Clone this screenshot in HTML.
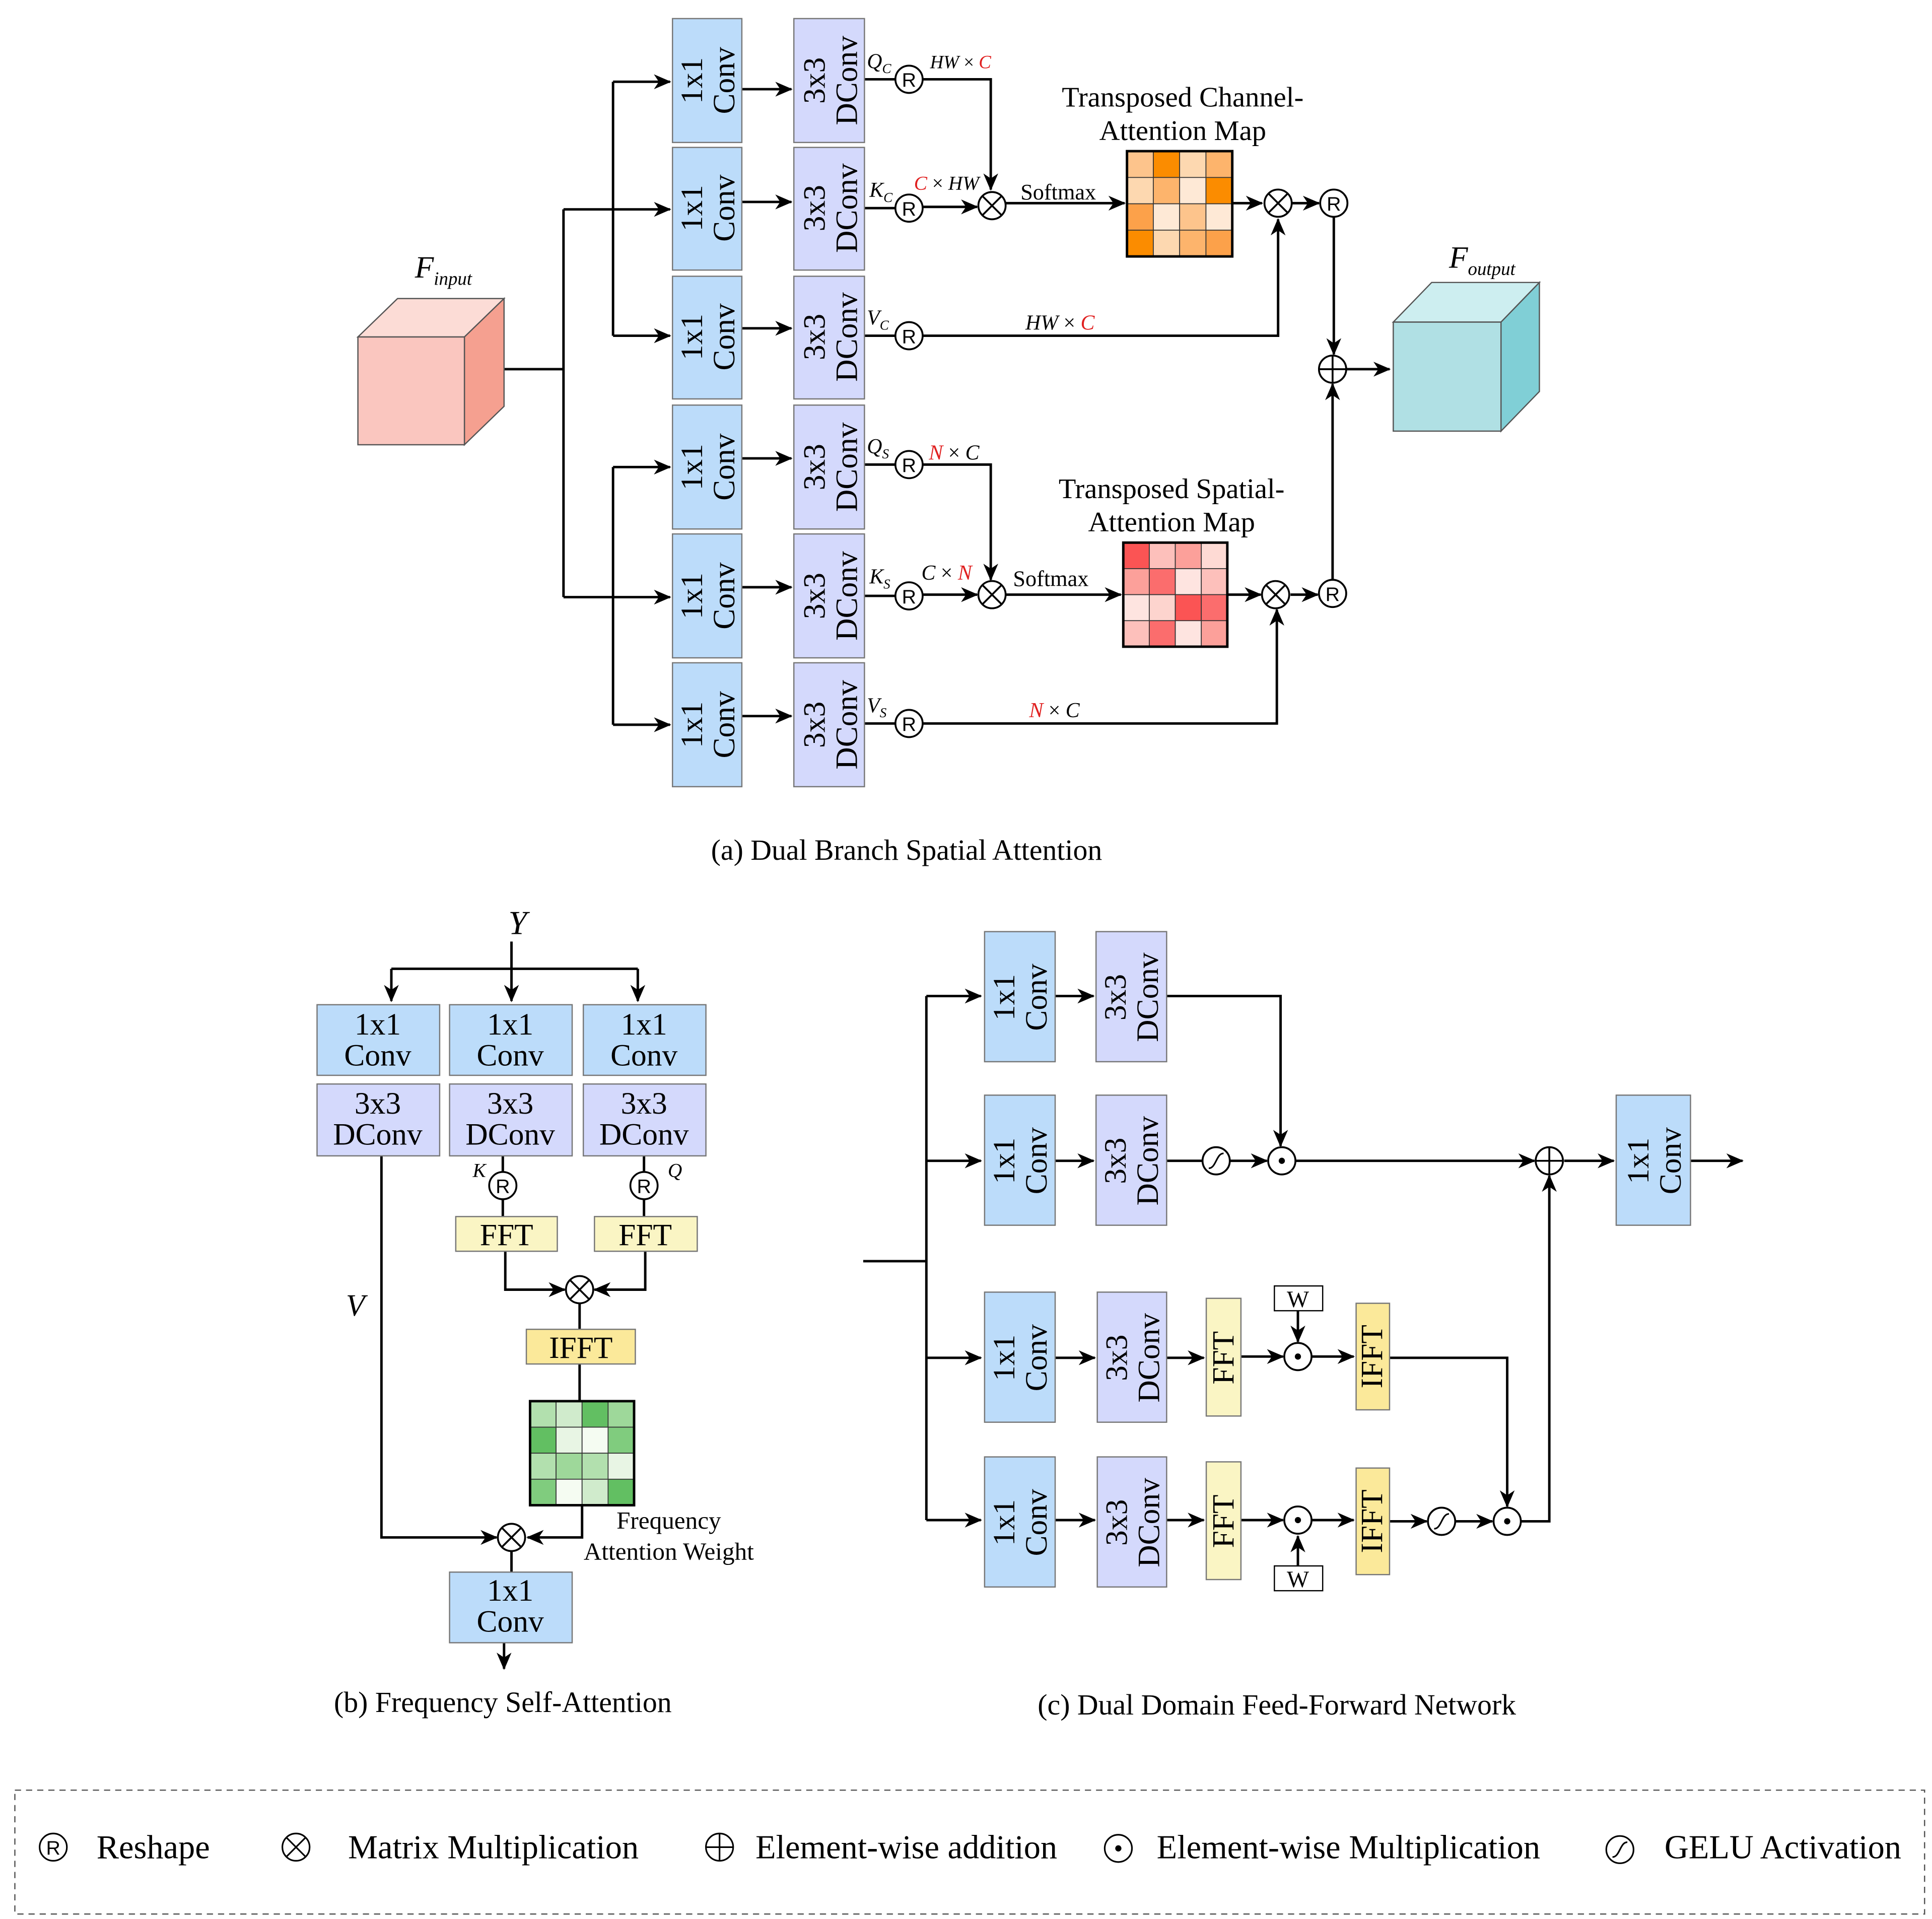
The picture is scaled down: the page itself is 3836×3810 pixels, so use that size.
<!DOCTYPE html>
<html><head><meta charset="utf-8"><style>html,body{margin:0;padding:0;background:#fff}svg{display:block}</style></head><body>
<svg width="3836" height="3810" viewBox="0 0 1560 1549" preserveAspectRatio="none" xmlns="http://www.w3.org/2000/svg" font-family="Liberation Serif, serif">
<defs>
<marker id="a" markerUnits="userSpaceOnUse" markerWidth="14" markerHeight="12" refX="13" refY="6" orient="auto"><path d="M0,0 L14,6 L0,12 L4,6 z" fill="#000"/></marker>
</defs>
<g stroke="#000" stroke-width="2" fill="none">
<path d="M407,298 H455 M455,169 V482"/>
<path d="M455,169 H541" marker-end="url(#a)"/>
<path d="M455,482 H541" marker-end="url(#a)"/>
<path d="M495,66 V271 M495,377 V585"/>
<path d="M495,66 H541" marker-end="url(#a)"/>
<path d="M495,271 H541" marker-end="url(#a)"/>
<path d="M495,377 H541" marker-end="url(#a)"/>
<path d="M495,585 H541" marker-end="url(#a)"/>
<path d="M599,72 H639" marker-end="url(#a)"/>
<path d="M599,163 H639" marker-end="url(#a)"/>
<path d="M599,265 H639" marker-end="url(#a)"/>
<path d="M599,370 H639" marker-end="url(#a)"/>
<path d="M599,474 H639" marker-end="url(#a)"/>
<path d="M599,578 H639" marker-end="url(#a)"/>
<path d="M698,64 H723 M698,168 H723 M698,271 H723 M698,375 H723 M698,481 H723 M698,584 H723"/>
<path d="M745,64 H800 V153" marker-end="url(#a)"/>
<path d="M745,167 H789" marker-end="url(#a)"/>
<path d="M812,164 H908" marker-end="url(#a)"/>
<path d="M995,164 H1019" marker-end="url(#a)"/>
<path d="M1043,164 H1065" marker-end="url(#a)"/>
<path d="M745,271 H1032 V177" marker-end="url(#a)"/>
<path d="M1077,175 V286" marker-end="url(#a)"/>
<path d="M1087,298 H1122" marker-end="url(#a)"/>
<path d="M745,375 H800 V468" marker-end="url(#a)"/>
<path d="M745,480 H789" marker-end="url(#a)"/>
<path d="M812,480 H905" marker-end="url(#a)"/>
<path d="M991,480 H1018" marker-end="url(#a)"/>
<path d="M1042,480 H1064" marker-end="url(#a)"/>
<path d="M745,584 H1031 V492" marker-end="url(#a)"/>
<path d="M1076,468 V310" marker-end="url(#a)"/>
<path d="M413,760 V808" marker-end="url(#a)"/>
<path d="M316,782 H515"/>
<path d="M316,782 V808" marker-end="url(#a)"/>
<path d="M515,782 V808" marker-end="url(#a)"/>
<path d="M406,933 V946 M406,968 V982 M520,933 V946 M520,968 V982"/>
<path d="M408,1010 V1041 H456" marker-end="url(#a)"/>
<path d="M521,1010 V1041 H480" marker-end="url(#a)"/>
<path d="M468,1052 V1073 M468,1101 V1131"/>
<path d="M470,1215 V1241 H426" marker-end="url(#a)"/>
<path d="M308,933 V1241 H401" marker-end="url(#a)"/>
<path d="M413,1252 V1269"/>
<path d="M407,1326 V1347" marker-end="url(#a)"/>
<path d="M697,1018 H748 M748,804 V1227"/>
<path d="M748,804 H792" marker-end="url(#a)"/>
<path d="M748,937 H792" marker-end="url(#a)"/>
<path d="M748,1096 H792" marker-end="url(#a)"/>
<path d="M748,1227 H792" marker-end="url(#a)"/>
<path d="M852,804 H883" marker-end="url(#a)"/>
<path d="M852,937 H883" marker-end="url(#a)"/>
<path d="M852,1096 H884" marker-end="url(#a)"/>
<path d="M852,1227 H884" marker-end="url(#a)"/>
<path d="M942,804 H1034 V925" marker-end="url(#a)"/>
<path d="M942,937 H971"/>
<path d="M993,937 H1023" marker-end="url(#a)"/>
<path d="M1046,937 H1239" marker-end="url(#a)"/>
<path d="M1263,937 H1303" marker-end="url(#a)"/>
<path d="M1365,937 H1407" marker-end="url(#a)"/>
<path d="M942,1096 H972" marker-end="url(#a)"/>
<path d="M1002,1095 H1036" marker-end="url(#a)"/>
<path d="M1048,1058 V1083" marker-end="url(#a)"/>
<path d="M1059,1095 H1093" marker-end="url(#a)"/>
<path d="M1122,1096 H1217 V1216" marker-end="url(#a)"/>
<path d="M942,1227 H972" marker-end="url(#a)"/>
<path d="M1002,1227 H1036" marker-end="url(#a)"/>
<path d="M1048,1264 V1240" marker-end="url(#a)"/>
<path d="M1059,1227 H1093" marker-end="url(#a)"/>
<path d="M1122,1228 H1152" marker-end="url(#a)"/>
<path d="M1175,1228 H1205" marker-end="url(#a)"/>
<path d="M1228,1228 H1251 V949" marker-end="url(#a)"/>
</g>

<g stroke="#555" stroke-width="1">
<polygon points="289,272 321,241 407,241 375,272" fill="#fcdcd6"/>
<polygon points="375,272 407,241 407,328 375,359" fill="#f5a090"/>
<rect x="289" y="272" width="86" height="87" fill="#fac6bf"/>
<polygon points="1125,260 1156,228 1243,228 1212,260" fill="#cdeef0"/>
<polygon points="1212,260 1243,228 1243,316 1212,348" fill="#80cfd6"/>
<rect x="1125" y="260" width="87" height="88" fill="#b0e0e4"/>
</g>
<text x="335" y="224" font-size="25" font-style="italic">F<tspan font-size="15" dy="6">input</tspan></text>
<text x="1170" y="216" font-size="25" font-style="italic">F<tspan font-size="15" dy="6">output</tspan></text>

<g stroke="#777" stroke-width="1">
<rect x="543" y="15" width="56" height="100" fill="#bcdcfa"/>
<rect x="543" y="119" width="56" height="99" fill="#bcdcfa"/>
<rect x="543" y="223" width="56" height="99" fill="#bcdcfa"/>
<rect x="543" y="327" width="56" height="100" fill="#bcdcfa"/>
<rect x="543" y="431" width="56" height="100" fill="#bcdcfa"/>
<rect x="543" y="535" width="56" height="100" fill="#bcdcfa"/>
<rect x="641" y="15" width="57" height="100" fill="#d4d9fc"/>
<rect x="641" y="119" width="57" height="99" fill="#d4d9fc"/>
<rect x="641" y="223" width="57" height="99" fill="#d4d9fc"/>
<rect x="641" y="327" width="57" height="100" fill="#d4d9fc"/>
<rect x="641" y="431" width="57" height="100" fill="#d4d9fc"/>
<rect x="641" y="535" width="57" height="100" fill="#d4d9fc"/>
</g>
<g font-size="25" text-anchor="middle">
<g transform="translate(571,65) rotate(-90)"><text y="-4">1x1</text><text y="22">Conv</text></g>
<g transform="translate(571,168) rotate(-90)"><text y="-4">1x1</text><text y="22">Conv</text></g>
<g transform="translate(571,272) rotate(-90)"><text y="-4">1x1</text><text y="22">Conv</text></g>
<g transform="translate(571,377) rotate(-90)"><text y="-4">1x1</text><text y="22">Conv</text></g>
<g transform="translate(571,481) rotate(-90)"><text y="-4">1x1</text><text y="22">Conv</text></g>
<g transform="translate(571,585) rotate(-90)"><text y="-4">1x1</text><text y="22">Conv</text></g>
<g transform="translate(670,65) rotate(-90)"><text y="-4">3x3</text><text y="22">DConv</text></g>
<g transform="translate(670,168) rotate(-90)"><text y="-4">3x3</text><text y="22">DConv</text></g>
<g transform="translate(670,272) rotate(-90)"><text y="-4">3x3</text><text y="22">DConv</text></g>
<g transform="translate(670,377) rotate(-90)"><text y="-4">3x3</text><text y="22">DConv</text></g>
<g transform="translate(670,481) rotate(-90)"><text y="-4">3x3</text><text y="22">DConv</text></g>
<g transform="translate(670,585) rotate(-90)"><text y="-4">3x3</text><text y="22">DConv</text></g>
</g>

<g font-family="Liberation Sans, sans-serif" font-size="16" text-anchor="middle">
<g stroke="#000" stroke-width="1.5" fill="#fff">
<circle cx="734" cy="64" r="11"/><circle cx="734" cy="168" r="11"/><circle cx="734" cy="271" r="11"/>
<circle cx="734" cy="375" r="11"/><circle cx="734" cy="481" r="11"/><circle cx="734" cy="584" r="11"/>
<circle cx="1077" cy="164" r="11"/><circle cx="1076" cy="479" r="11"/>
<circle cx="406" cy="957" r="11"/><circle cx="520" cy="957" r="11"/>
</g>
<text x="734" y="70">R</text><text x="734" y="174">R</text><text x="734" y="277">R</text>
<text x="734" y="381">R</text><text x="734" y="487">R</text><text x="734" y="590">R</text>
<text x="1077" y="170">R</text><text x="1076" y="485">R</text>
<text x="406" y="963">R</text><text x="520" y="963">R</text>
</g>

<g stroke="#000" stroke-width="1.5" fill="#fff">
<g><circle cx="801" cy="166" r="11"/><path d="M793,158 L809,174 M809,158 L793,174"/></g>
<g><circle cx="1032" cy="164" r="11"/><path d="M1024,156 L1040,172 M1040,156 L1024,172"/></g>
<g><circle cx="801" cy="480" r="11"/><path d="M793,472 L809,488 M809,472 L793,488"/></g>
<g><circle cx="1030" cy="480" r="11"/><path d="M1022,472 L1038,488 M1038,472 L1022,488"/></g>
<g><circle cx="468" cy="1041" r="11"/><path d="M460,1033 L476,1049 M476,1033 L460,1049"/></g>
<g><circle cx="413" cy="1241" r="11"/><path d="M405,1233 L421,1249 M421,1233 L405,1249"/></g>
<g><circle cx="1076" cy="298" r="11"/><path d="M1065,298 H1087 M1076,287 V309"/></g>
<g><circle cx="1251" cy="937" r="11"/><path d="M1240,937 H1262 M1251,926 V948"/></g>
<circle cx="1035" cy="937" r="11"/><circle cx="1048" cy="1095" r="11"/><circle cx="1048" cy="1227" r="11"/><circle cx="1217" cy="1228" r="11"/>
<circle cx="982" cy="937" r="11"/><circle cx="1164" cy="1228" r="11"/>
<path d="M976,943 C982,943 982,931 988,931" stroke-width="1.3"/>
<path d="M1158,1234 C1164,1234 1164,1222 1170,1222" stroke-width="1.3"/>
</g>
<g fill="#000"><circle cx="1035" cy="937" r="2.5"/><circle cx="1048" cy="1095" r="2.5"/><circle cx="1048" cy="1227" r="2.5"/><circle cx="1217" cy="1228" r="2.5"/></g>

<g font-size="17" font-style="italic">
<text x="700" y="55">Q<tspan font-size="11" dy="4">C</tspan></text>
<text x="702" y="159">K<tspan font-size="11" dy="4">C</tspan></text>
<text x="700" y="262">V<tspan font-size="11" dy="4">C</tspan></text>
<text x="700" y="366">Q<tspan font-size="11" dy="4">S</tspan></text>
<text x="702" y="471">K<tspan font-size="11" dy="4">S</tspan></text>
<text x="700" y="575">V<tspan font-size="11" dy="4">S</tspan></text>
<text x="751" y="55" font-size="15">HW <tspan font-style="normal">×</tspan> <tspan fill="#e02020">C</tspan></text>
<text x="738" y="153" font-size="16"><tspan fill="#e02020">C</tspan> <tspan font-style="normal">×</tspan> HW</text>
<text x="828" y="266">HW <tspan font-style="normal">×</tspan> <tspan fill="#e02020">C</tspan></text>
<text x="750" y="371"><tspan fill="#e02020">N</tspan> <tspan font-style="normal">×</tspan> C</text>
<text x="744" y="468"><tspan>C</tspan> <tspan font-style="normal">×</tspan> <tspan fill="#e02020">N</tspan></text>
<text x="831" y="579"><tspan fill="#e02020">N</tspan> <tspan font-style="normal">×</tspan> C</text>
</g>
<text x="824" y="161" font-size="18">Softmax</text>
<text x="818" y="473" font-size="18">Softmax</text>
<g font-size="23" text-anchor="middle">
<text x="955" y="86">Transposed Channel-</text><text x="955" y="113">Attention Map</text>
<text x="946" y="402">Transposed Spatial-</text><text x="946" y="429">Attention Map</text>
</g>

<g stroke="#333" stroke-width="0.7">
<rect x="910" y="122" width="21.25" height="21.25" fill="#fdc48c"/><rect x="931.25" y="122" width="21.25" height="21.25" fill="#fb8c00"/><rect x="952.5" y="122" width="21.25" height="21.25" fill="#fdd8b0"/><rect x="973.75" y="122" width="21.25" height="21.25" fill="#fdb46c"/>
<rect x="910" y="143.25" width="21.25" height="21.25" fill="#fdd8b0"/><rect x="931.25" y="143.25" width="21.25" height="21.25" fill="#fdb46c"/><rect x="952.5" y="143.25" width="21.25" height="21.25" fill="#fee9d6"/><rect x="973.75" y="143.25" width="21.25" height="21.25" fill="#fb8c00"/>
<rect x="910" y="164.5" width="21.25" height="21.25" fill="#fca14a"/><rect x="931.25" y="164.5" width="21.25" height="21.25" fill="#fee9d6"/><rect x="952.5" y="164.5" width="21.25" height="21.25" fill="#fdc48c"/><rect x="973.75" y="164.5" width="21.25" height="21.25" fill="#fee9d6"/>
<rect x="910" y="185.75" width="21.25" height="21.25" fill="#fb8c00"/><rect x="931.25" y="185.75" width="21.25" height="21.25" fill="#fdd8b0"/><rect x="952.5" y="185.75" width="21.25" height="21.25" fill="#fdb46c"/><rect x="973.75" y="185.75" width="21.25" height="21.25" fill="#fca14a"/>
<rect x="907" y="438" width="21" height="21" fill="#fb5454"/><rect x="928" y="438" width="21" height="21" fill="#fdc0bb"/><rect x="949" y="438" width="21" height="21" fill="#fca09a"/><rect x="970" y="438" width="21" height="21" fill="#fedad4"/>
<rect x="907" y="459" width="21" height="21" fill="#fca09a"/><rect x="928" y="459" width="21" height="21" fill="#fb6d6d"/><rect x="949" y="459" width="21" height="21" fill="#fee4e0"/><rect x="970" y="459" width="21" height="21" fill="#fdc0bb"/>
<rect x="907" y="480" width="21" height="21" fill="#fee4e0"/><rect x="928" y="480" width="21" height="21" fill="#fdd4ce"/><rect x="949" y="480" width="21" height="21" fill="#fb5454"/><rect x="970" y="480" width="21" height="21" fill="#fb6d6d"/>
<rect x="907" y="501" width="21" height="21" fill="#fdc0bb"/><rect x="928" y="501" width="21" height="21" fill="#fb6d6d"/><rect x="949" y="501" width="21" height="21" fill="#fee4e0"/><rect x="970" y="501" width="21" height="21" fill="#fca09a"/>
<rect x="428" y="1131" width="21" height="21" fill="#b2e0ae"/><rect x="449" y="1131" width="21" height="21" fill="#d0ebcc"/><rect x="470" y="1131" width="21" height="21" fill="#62bf62"/><rect x="491" y="1131" width="21" height="21" fill="#9ed89a"/>
<rect x="428" y="1152" width="21" height="21" fill="#62bf62"/><rect x="449" y="1152" width="21" height="21" fill="#e8f5e4"/><rect x="470" y="1152" width="21" height="21" fill="#f5fcf2"/><rect x="491" y="1152" width="21" height="21" fill="#80cc7e"/>
<rect x="428" y="1173" width="21" height="21" fill="#b2e0ae"/><rect x="449" y="1173" width="21" height="21" fill="#9ed89a"/><rect x="470" y="1173" width="21" height="21" fill="#b2e0ae"/><rect x="491" y="1173" width="21" height="21" fill="#e8f5e4"/>
<rect x="428" y="1194" width="21" height="21" fill="#80cc7e"/><rect x="449" y="1194" width="21" height="21" fill="#f5fcf2"/><rect x="470" y="1194" width="21" height="21" fill="#d0ebcc"/><rect x="491" y="1194" width="21" height="21" fill="#62bf62"/>
</g>
<g fill="none" stroke="#000" stroke-width="2">
<rect x="910" y="122" width="85" height="85"/><rect x="907" y="438" width="84" height="84"/><rect x="428" y="1131" width="84" height="84"/>
</g>

<text x="732" y="694" font-size="23.5" text-anchor="middle">(a) Dual Branch Spatial Attention</text>

<text x="418" y="754" font-size="27" font-style="italic" text-anchor="middle">Y</text>
<text x="287" y="1062" font-size="25" font-style="italic" text-anchor="middle">V</text>
<text x="387" y="950" font-size="16" font-style="italic" text-anchor="middle">K</text>
<text x="545" y="950" font-size="16" font-style="italic" text-anchor="middle">Q</text>
<g stroke="#777" stroke-width="1">
<rect x="256" y="811" width="99" height="57" fill="#bcdcfa"/><rect x="363" y="811" width="99" height="57" fill="#bcdcfa"/><rect x="471" y="811" width="99" height="57" fill="#bcdcfa"/>
<rect x="256" y="875" width="99" height="58" fill="#d4d9fc"/><rect x="363" y="875" width="99" height="58" fill="#d4d9fc"/><rect x="471" y="875" width="99" height="58" fill="#d4d9fc"/>
<rect x="368" y="982" width="82" height="28" fill="#faf5c4"/><rect x="480" y="982" width="83" height="28" fill="#faf5c4"/>
<rect x="425" y="1073" width="88" height="28" fill="#fbe99a"/>
<rect x="363" y="1269" width="99" height="57" fill="#bcdcfa"/>
</g>
<g font-size="25" text-anchor="middle">
<text x="305" y="835">1x1</text><text x="305" y="860">Conv</text>
<text x="412" y="835">1x1</text><text x="412" y="860">Conv</text>
<text x="520" y="835">1x1</text><text x="520" y="860">Conv</text>
<text x="305" y="899">3x3</text><text x="305" y="924">DConv</text>
<text x="412" y="899">3x3</text><text x="412" y="924">DConv</text>
<text x="520" y="899">3x3</text><text x="520" y="924">DConv</text>
<text x="409" y="1005">FFT</text><text x="521" y="1005">FFT</text>
<text x="469" y="1096">IFFT</text>
<text x="412" y="1292">1x1</text><text x="412" y="1317">Conv</text>
</g>
<text x="540" y="1234" font-size="20" text-anchor="middle">Frequency</text>
<text x="540" y="1259" font-size="20" text-anchor="middle">Attention Weight</text>
<text x="406" y="1382" font-size="23.5" text-anchor="middle">(b) Frequency Self-Attention</text>

<g stroke="#777" stroke-width="1">
<rect x="795" y="752" width="57" height="105" fill="#bcdcfa"/><rect x="795" y="884" width="57" height="105" fill="#bcdcfa"/>
<rect x="795" y="1043" width="57" height="105" fill="#bcdcfa"/><rect x="795" y="1176" width="57" height="105" fill="#bcdcfa"/>
<rect x="885" y="752" width="57" height="105" fill="#d4d9fc"/><rect x="885" y="884" width="57" height="105" fill="#d4d9fc"/>
<rect x="886" y="1043" width="56" height="105" fill="#d4d9fc"/><rect x="886" y="1176" width="56" height="105" fill="#d4d9fc"/>
<rect x="1305" y="884" width="60" height="105" fill="#bcdcfa"/>
<rect x="974" y="1048" width="28" height="95" fill="#faf5c4"/><rect x="974" y="1180" width="28" height="95" fill="#faf5c4"/>
<rect x="1095" y="1052" width="27" height="86" fill="#fbe99a"/><rect x="1095" y="1185" width="27" height="86" fill="#fbe99a"/>
</g>
<g stroke="#000" stroke-width="1" fill="#fff"><rect x="1029" y="1038" width="39" height="20"/><rect x="1029" y="1264" width="39" height="20"/></g>
<text x="1048" y="1055" font-size="19" text-anchor="middle">W</text>
<text x="1048" y="1281" font-size="19" text-anchor="middle">W</text>
<g font-size="25" text-anchor="middle">
<g transform="translate(823,805) rotate(-90)"><text y="-4">1x1</text><text y="22">Conv</text></g>
<g transform="translate(823,937) rotate(-90)"><text y="-4">1x1</text><text y="22">Conv</text></g>
<g transform="translate(823,1096) rotate(-90)"><text y="-4">1x1</text><text y="22">Conv</text></g>
<g transform="translate(823,1229) rotate(-90)"><text y="-4">1x1</text><text y="22">Conv</text></g>
<g transform="translate(913,805) rotate(-90)"><text y="-4">3x3</text><text y="22">DConv</text></g>
<g transform="translate(913,937) rotate(-90)"><text y="-4">3x3</text><text y="22">DConv</text></g>
<g transform="translate(914,1096) rotate(-90)"><text y="-4">3x3</text><text y="22">DConv</text></g>
<g transform="translate(914,1229) rotate(-90)"><text y="-4">3x3</text><text y="22">DConv</text></g>
<g transform="translate(1335,937) rotate(-90)"><text y="-4">1x1</text><text y="22">Conv</text></g>
<g transform="translate(988,1096) rotate(-90)"><text y="8">FFT</text></g>
<g transform="translate(988,1228) rotate(-90)"><text y="8">FFT</text></g>
<g transform="translate(1108,1095) rotate(-90)"><text y="8">IFFT</text></g>
<g transform="translate(1108,1228) rotate(-90)"><text y="8">IFFT</text></g>
</g>
<text x="1031" y="1384" font-size="23.5" text-anchor="middle">(c) Dual Domain Feed-Forward Network</text>

<rect x="12" y="1445" width="1542" height="100" fill="none" stroke="#555" stroke-width="1" stroke-dasharray="5,4"/>
<g stroke="#000" stroke-width="1.3" fill="none">
<circle cx="43" cy="1491" r="11"/>
<circle cx="239" cy="1491" r="11"/><path d="M231,1483 L247,1499 M247,1483 L231,1499"/>
<circle cx="581" cy="1491" r="11"/><path d="M570,1491 H592 M581,1480 V1502"/>
<circle cx="903" cy="1492" r="11"/>
<circle cx="1308" cy="1493" r="11"/><path d="M1302,1499 C1308,1499 1308,1487 1314,1487"/>
</g>
<circle cx="903" cy="1492" r="2.5" fill="#000"/>
<text x="43" y="1497" font-size="16" text-anchor="middle" font-family="Liberation Sans, sans-serif">R</text>
<g font-size="27">
<text x="78" y="1500">Reshape</text>
<text x="281" y="1500">Matrix Multiplication</text>
<text x="610" y="1500">Element-wise addition</text>
<text x="934" y="1500">Element-wise Multiplication</text>
<text x="1344" y="1500">GELU Activation</text>
</g>
</svg>
</body></html>
